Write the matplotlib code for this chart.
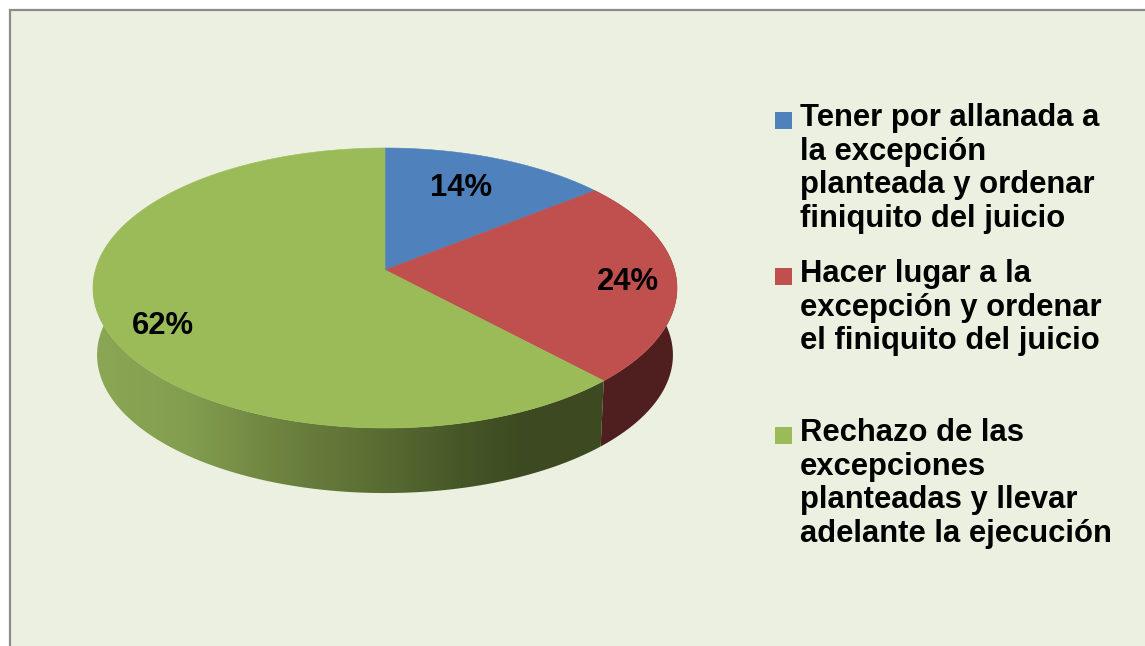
import numpy as np
import matplotlib
matplotlib.use('Agg')
import matplotlib.pyplot as plt
from matplotlib.colors import LinearSegmentedColormap
from matplotlib.patches import Polygon, Rectangle

# slice values (percent) and legend text
values = [14.3, 23.7, 62.0]
colors = ['#4F81BD', '#C0504D', '#9BBB59']
legend_labels = [
    'Tener por allanada a\nla excepción\nplanteada y ordenar\nfiniquito del juicio',
    'Hacer lugar a la\nexcepción y ordenar\nel finiquito del juicio',
    'Rechazo de las\nexcepciones\nplanteadas y llevar\nadelante la ejecución',
]

label_pos = [(461, 188), (628, 282), (163, 326)]
legend_y = [112, 268, 427]

plt.rcParams['font.family'] = ['Liberation Sans', 'DejaVu Sans']
plt.rcParams['font.weight'] = 'bold'

fig = plt.figure(figsize=(11.45, 6.46), dpi=100)
ax = fig.add_axes([0, 0, 1, 1])
ax.set_xlim(0, 1145)
ax.set_ylim(646, 0)
ax.axis('off')

ax.add_patch(Rectangle((10, 10), 1150, 650, facecolor='#EBF0E0',
                       edgecolor='#8C8C8C', linewidth=1.6))


# circle -> screen, perspective tilt of the 3D pie
def project(deg, depth=0.0):
    t = np.radians(deg)
    u, v = np.sin(t), -np.cos(t)
    w = 1 - 0.1286 * v
    x = 385 + 289.6 * u / w
    y = (102.97 * v + 270) / w
    if depth:
        # bottom rim is a bit smaller and lower
        x = 385 + (x - 385) * 0.986
        y = 355 + (y - 288) * 0.986
    return x, y


def side_points(a, b):
    t = np.linspace(a, b, 200)
    x1, y1 = project(t)
    x2, y2 = project(t, 1)
    return np.column_stack([np.r_[x1, x2[::-1]], np.r_[y1, y2[::-1]]])


angles = np.r_[0, np.cumsum(values)] * 3.6

# side walls first
red_side = Polygon(side_points(angles[1], angles[2]), facecolor='#4E1F1E', edgecolor='none')
ax.add_patch(red_side)

green_cmap = LinearSegmentedColormap.from_list('side', [
    (0.00, '#8BA755'), (0.18, '#839E4F'), (0.35, '#6F8540'), (0.55, '#5A6E33'),
    (0.72, '#465727'), (0.84, '#3D4A21'), (1.00, '#3E4B22')])
green_side = Polygon(side_points(angles[2], 360), facecolor='none', edgecolor='none')
ax.add_patch(green_side)
img = ax.imshow(np.linspace(0, 1, 256)[None, :], cmap=green_cmap, aspect='auto',
                extent=(93, 605, 500, 280), zorder=1)
img.set_clip_path(green_side)
ax.set_xlim(0, 1145)
ax.set_ylim(646, 0)

# top faces
for i in range(3):
    t = np.linspace(angles[i], angles[i + 1], 200)
    x, y = project(t)
    x0, y0 = project(0.0)
    ax.add_patch(Polygon(np.column_stack([np.r_[385, x], np.r_[270, y]]),
                         facecolor=colors[i], edgecolor=colors[i], linewidth=0.4, zorder=2))

for val, pos in zip(values, label_pos):
    ax.text(pos[0], pos[1], '%.0f%%' % val, fontsize=22.3, ha='center', va='center',
            color='black', zorder=3)

# legend
for lab, col, y in zip(legend_labels, colors, legend_y):
    ax.add_patch(Rectangle((775, y), 17, 17, facecolor=col, edgecolor='none'))
    ax.text(800, y - 9, lab, fontsize=22.3, ha='left', va='top', color='black',
            linespacing=1.16)

fig.savefig('out.png', dpi=100)
